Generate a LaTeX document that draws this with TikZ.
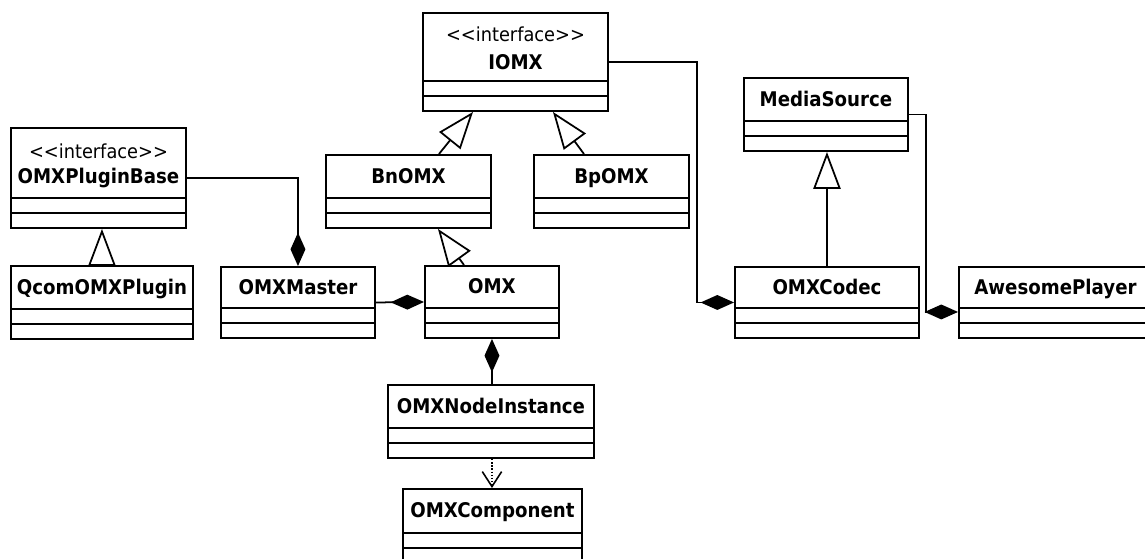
\documentclass[tikz,border=0pt]{standalone}
\usepackage{fontspec}
\setmainfont{DejaVu Sans}
\newfontfamily\classfont{DejaVu Sans Bold}[FakeStretch=0.9]
\newfontfamily\stereofont{DejaVu Sans}[FakeStretch=0.92]
\usepackage{tikz}
\usetikzlibrary{arrows.meta}

\tikzset{
  classbox/.style={draw, line width=1.1pt, anchor=north west, inner sep=0pt},
  classname/.style={font=\classfont\fontsize{11.5}{13}\selectfont, inner sep=0pt, text height=8.4pt, text depth=0pt},
  stereo/.style={font=\stereofont\fontsize{11}{13}\selectfont, inner sep=0pt, text height=8pt, text depth=0pt},
  inherit/.style={line width=1pt, -{Triangle[open, length=21pt, width=15.5pt]}},
  comp/.style={line width=1pt, {Diamond[length=19pt, width=8.5pt]}-},
  dep/.style={line width=0.8pt, densely dotted, -{Straight Barb[length=8.5pt, width=11pt, line width=0.9pt]}}
}

% name, left, top, right, bottom
\newcommand{\umlclass}[5]{%
  \node[classbox, minimum width={(#4-#2)*0.02cm}, minimum height={(#5-#3)*0.02cm}] (#1) at (#2,#3) {};
  \draw[line width=1.1pt] ([yshift=0.62cm]#1.south west) -- ([yshift=0.62cm]#1.south east)
    ([yshift=0.32cm]#1.south west) -- ([yshift=0.32cm]#1.south east);}

\begin{document}
\begin{tikzpicture}[x=0.02cm, y=-0.02cm]
  \useasboundingbox (0,0) rectangle (1145,558);

  \umlclass{iomx}{422}{12}{607}{110}
  \node[stereo] (iomx-st) at ([yshift=0.56cm]iomx.center) {<{}<interface>{}>};
  \node[classname] (iomx-name) at (iomx.center) {IOMX};

  \umlclass{pluginbase}{10}{127}{185}{227}
  \node[stereo] (pluginbase-st) at ([yshift=0.53cm]pluginbase.center) {<{}<interface>{}>};
  \node[classname] (pluginbase-name) at ([yshift=0.03cm]pluginbase.center) {OMXPluginBase};

  \umlclass{qcom}{10}{265}{192}{338}
  \node[classname] (qcom-name) at ([yshift=0.31cm]qcom.center) {QcomOMXPlugin};

  \umlclass{master}{220}{266}{374}{337}
  \node[classname] (master-name) at ([yshift=0.31cm]master.center) {OMXMaster};

  \umlclass{bnomx}{325}{154}{490}{227}
  \node[classname] (bnomx-name) at ([yshift=0.31cm]bnomx.center) {BnOMX};

  \umlclass{bpomx}{533}{154}{688}{227}
  \node[classname] (bpomx-name) at ([yshift=0.31cm]bpomx.center) {BpOMX};

  \umlclass{omx}{424}{265}{558}{337}
  \node[classname] (omx-name) at ([yshift=0.31cm]omx.center) {OMX};

  \umlclass{nodeinst}{387}{384}{593}{457}
  \node[classname] (nodeinst-name) at ([yshift=0.31cm]nodeinst.center) {OMXNodeInstance};

  \umlclass{component}{402}{488}{581}{562}
  \node[classname] (component-name) at ([yshift=0.31cm]component.center) {OMXComponent};

  \umlclass{mediasource}{743}{77}{907}{150}
  \node[classname] (mediasource-name) at ([yshift=0.31cm]mediasource.center) {MediaSource};

  \umlclass{codec}{734}{266}{918}{337}
  \node[classname] (codec-name) at ([yshift=0.31cm]codec.center) {OMXCodec};

  \umlclass{player}{958}{266}{1160}{337}
  \node[classname, anchor=west] (player-name) at ([xshift=0.32cm, yshift=0.31cm]player.west) {AwesomePlayer};

  \draw[inherit] (qcom.north) -- (qcom.north |- pluginbase.south);
  \draw[comp] (master.north) |- (pluginbase.east);
  \draw[comp] (omx.west) -- (master.east);
  \draw[inherit] ([xshift=-0.56cm]omx.north) -- ([xshift=0.59cm]bnomx.south);
  \draw[inherit] ([xshift=0.61cm]bnomx.north) -- ([xshift=-0.85cm]iomx.south);
  \draw[inherit] ([xshift=-0.55cm]bpomx.north) -- ([xshift=0.75cm]iomx.south);
  \draw[comp] (omx.south) -- (omx.south |- nodeinst.north);
  \draw[dep] (omx.south |- nodeinst.south) -- (omx.south |- component.north);
  \draw[comp] (codec.west) -- ++(-37,0) |- (iomx.east);
  \draw[inherit] (codec.north) -- (codec.north |- mediasource.south);
  \draw[comp] ([yshift=-0.19cm]player.west) -- ++(-32,0) |- (mediasource.east);
\end{tikzpicture}
\end{document}
